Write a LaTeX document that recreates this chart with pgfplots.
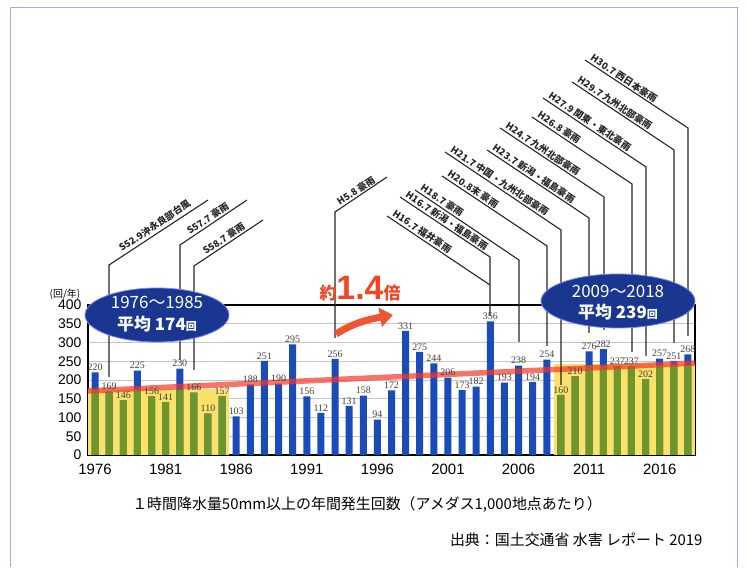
\documentclass[border=0pt]{standalone}
\usepackage{fontspec}
\setmainfont{Liberation Sans}
\newfontfamily\jp{Noto Sans CJK JP}
\newfontfamily\serifnum{Liberation Serif}
\usepackage{pgfplots}
\usepackage{pgfplotstable}
\pgfplotsset{compat=1.18}
\usetikzlibrary{arrows.meta}

\definecolor{barblue}{RGB}{25,75,185}
\definecolor{bargreen}{RGB}{110,150,40}
\definecolor{zoneyel}{RGB}{250,225,105}
\definecolor{trendred}{RGB}{245,55,40}
\definecolor{ellblue}{RGB}{25,55,145}
\definecolor{titlered}{RGB}{240,70,40}
\definecolor{arrowred}{RGB}{240,85,50}

\pgfplotstableread{
year v
1976 220
1977 169
1978 146
1979 225
1980 156
1981 141
1982 230
1983 166
1984 110
1985 157
1986 103
1987 188
1988 251
1989 190
1990 295
1991 156
1992 112
1993 256
1994 131
1995 158
1996 94
1997 172
1998 331
1999 275
2000 244
2001 206
2002 173
2003 182
2004 356
2005 193
2006 238
2007 194
2008 254
2009 160
2010 210
2011 276
2012 282
2013 237
2014 237
2015 202
2016 257
2017 251
2018 268
}\bluedata

\pgfplotstableread{
year v
1976 174
1977 169
1978 146
1979 174
1980 156
1981 141
1982 174
1983 166
1984 110
1985 157
}\greenA

\pgfplotstableread{
year v
2009 160
2010 210
2011 239
2012 239
2013 237
2014 237
2015 202
2016 239
2017 239
2018 239
}\greenB

\begin{document}
\begin{tikzpicture}
\useasboundingbox (0,0) rectangle (749bp,569bp);
\begin{axis}[
  at={(88bp,114bp)}, anchor=south west,
  width=607bp, height=150bp, scale only axis,
  xmin=1975.5, xmax=2018.5, ymin=0, ymax=400,
  xtick={1976,1981,...,2016}, ytick={0,50,...,400},
  major tick length=0pt,
  ymajorgrids, grid style={gray!45, line width=0.7bp},
  axis line style={black, line width=1.1bp},
  /pgf/number format/assume math mode=true,
  xticklabel style={font=\fontsize{15}{15}\selectfont, /pgf/number format/1000 sep={}, yshift=-6bp},
  yticklabel style={font=\fontsize{14}{14}\selectfont, xshift=-3bp},
  clip=false,
]
\addplot[fill=zoneyel, draw=none, sharp plot] coordinates {(1975.5,0) (1975.5,177) (1985.5,177) (1985.5,0)};
\addplot[fill=zoneyel, draw=none, sharp plot] coordinates {(2008.5,0) (2008.5,242) (2018.5,242) (2018.5,0)};
\addplot[ybar, bar width=7bp, bar shift=0pt, fill=barblue, draw=none,
  nodes near coords,
  nodes near coords style={font=\serifnum\fontsize{10}{10}\selectfont, text=black!75, anchor=south, inner sep=1.5bp}]
  table[x=year, y=v] {\bluedata};
\addplot[ybar, bar width=7bp, bar shift=0pt, fill=bargreen, draw=none] table[x=year, y=v] {\greenA};
\addplot[ybar, bar width=7bp, bar shift=0pt, fill=bargreen, draw=none] table[x=year, y=v] {\greenB};
\addplot[trendred, line width=5.5bp, opacity=0.7, sharp plot] coordinates {(1975.5,171) (2018.5,245)};
\draw[line width=2.6bp, black] (rel axis cs:0,1) -- (rel axis cs:1,1);
\end{axis}

\begin{scope}[x=1bp, y=-1bp, yshift=569bp]
  % page frame
  \draw[blue!35, line width=1bp] (10,567) -- (10,8) -- (737,8) -- (737,567);
  % leader lines
  \begin{scope}[line width=1.1bp, black!85]
    \draw (109,377) -- (109,265) -- (208,200);
    \draw (180,360) -- (180,245) -- (247,200);
    \draw (194,370) -- (194,266) -- (263,220);
    \draw (335,338) -- (335,212) -- (387,177);
    \draw (387,216) -- (490,285);
    \draw (400,197) -- (490,257) -- (490,316);
    \draw (415,190) -- (519,260) -- (519,342);
    \draw (442,176) -- (547,246) -- (547,346);
    \draw (445,152) -- (561,230) -- (561,385);
    \draw (487,150) -- (589,218) -- (589,333);
    \draw (500,128) -- (604,197) -- (604,330);
    \draw (532,117) -- (632,184) -- (632,352);
    \draw (543,98) -- (646,167) -- (646,356);
    \draw (572,82) -- (674,150) -- (674,343);
    \draw (585,60) -- (688,128) -- (688,336);
  \end{scope}
  \begin{scope}[every node/.style={font=\jp\bfseries\fontsize{9.5}{9.5}\selectfont, text=black!85, inner sep=1.5bp}]
    \node[rotate=33.8, anchor=south west] at (122,255) {S52.9沖永良部台風};
    \node[rotate=33.8, anchor=south west] at (190,238) {S57.7 豪雨};
    \node[rotate=33.8, anchor=south west] at (206,258) {S58.7 豪雨};
    \node[rotate=33.8, anchor=south west] at (340,209) {H5.8 豪雨};
    \node[rotate=-33.8, anchor=south west] at (389,217) {H16.7 福井豪雨};
    \node[rotate=-33.8, anchor=south west] at (402,198) {H16.7 新潟・福島豪雨};
    \node[rotate=-33.8, anchor=south west] at (417,191) {H18.7 豪雨};
    \node[rotate=-33.8, anchor=south west] at (444,177) {H20.8末 豪雨};
    \node[rotate=-33.8, anchor=south west] at (447,153) {H21.7 中国・九州北部豪雨};
    \node[rotate=-33.8, anchor=south west] at (489,151) {H23.7 新潟・福島豪雨};
    \node[rotate=-33.8, anchor=south west] at (502,129) {H24.7 九州北部豪雨};
    \node[rotate=-33.8, anchor=south west] at (534,118) {H26.8 豪雨};
    \node[rotate=-33.8, anchor=south west] at (545,99) {H27.9 関東・東北豪雨};
    \node[rotate=-33.8, anchor=south west] at (574,83) {H29.7 九州北部豪雨};
    \node[rotate=-33.8, anchor=south west] at (587,61) {H30.7 西日本豪雨};
  \end{scope}
  % ellipses
  \filldraw[fill=ellblue, draw=blue!50!white, line width=0.8bp] (157,315) ellipse [x radius=72bp, y radius=27bp];
  \node[text=white, font=\jp\fontsize{17}{17}\selectfont] at (157,302) {1976〜1985};
  \node[text=white, font=\jp\bfseries\fontsize{17}{17}\selectfont] at (157,324) {平均 174{\fontsize{11}{11}\selectfont 回}};
  \filldraw[fill=ellblue, draw=blue!50!white, line width=0.8bp] (618,301) ellipse [x radius=77bp, y radius=27bp];
  \node[text=white, font=\jp\fontsize{17}{17}\selectfont] at (618,291) {2009〜2018};
  \node[text=white, font=\jp\bfseries\fontsize{17}{17}\selectfont] at (618,312) {平均 239{\fontsize{11}{11}\selectfont 回}};
  % 1.4x annotation
  \node[text=titlered, anchor=base] at (360,300) {{\jp\bfseries\fontsize{17}{17}\selectfont 約}{\bfseries\fontsize{34}{34}\selectfont 1.4}{\jp\bfseries\fontsize{17}{17}\selectfont 倍}};
  \draw[arrowred, line width=7bp, -{Triangle[length=13bp, width=19bp]}] (336,334) .. controls (352,324) and (365,320) .. (393,315);
  % axis captions
  \node[font=\jp\fontsize{10}{10}\selectfont] at (65,294) {(回/年)};
  \node[font=\jp\fontsize{15}{15}\selectfont] at (367,505) {１時間降水量50mm以上の年間発生回数（アメダス1,000地点あたり）};
  \node[font=\jp\fontsize{15}{15}\selectfont, anchor=east] at (706,540) {出典：国土交通省 水害 レポート 2019};
\end{scope}
\end{tikzpicture}
\end{document}
